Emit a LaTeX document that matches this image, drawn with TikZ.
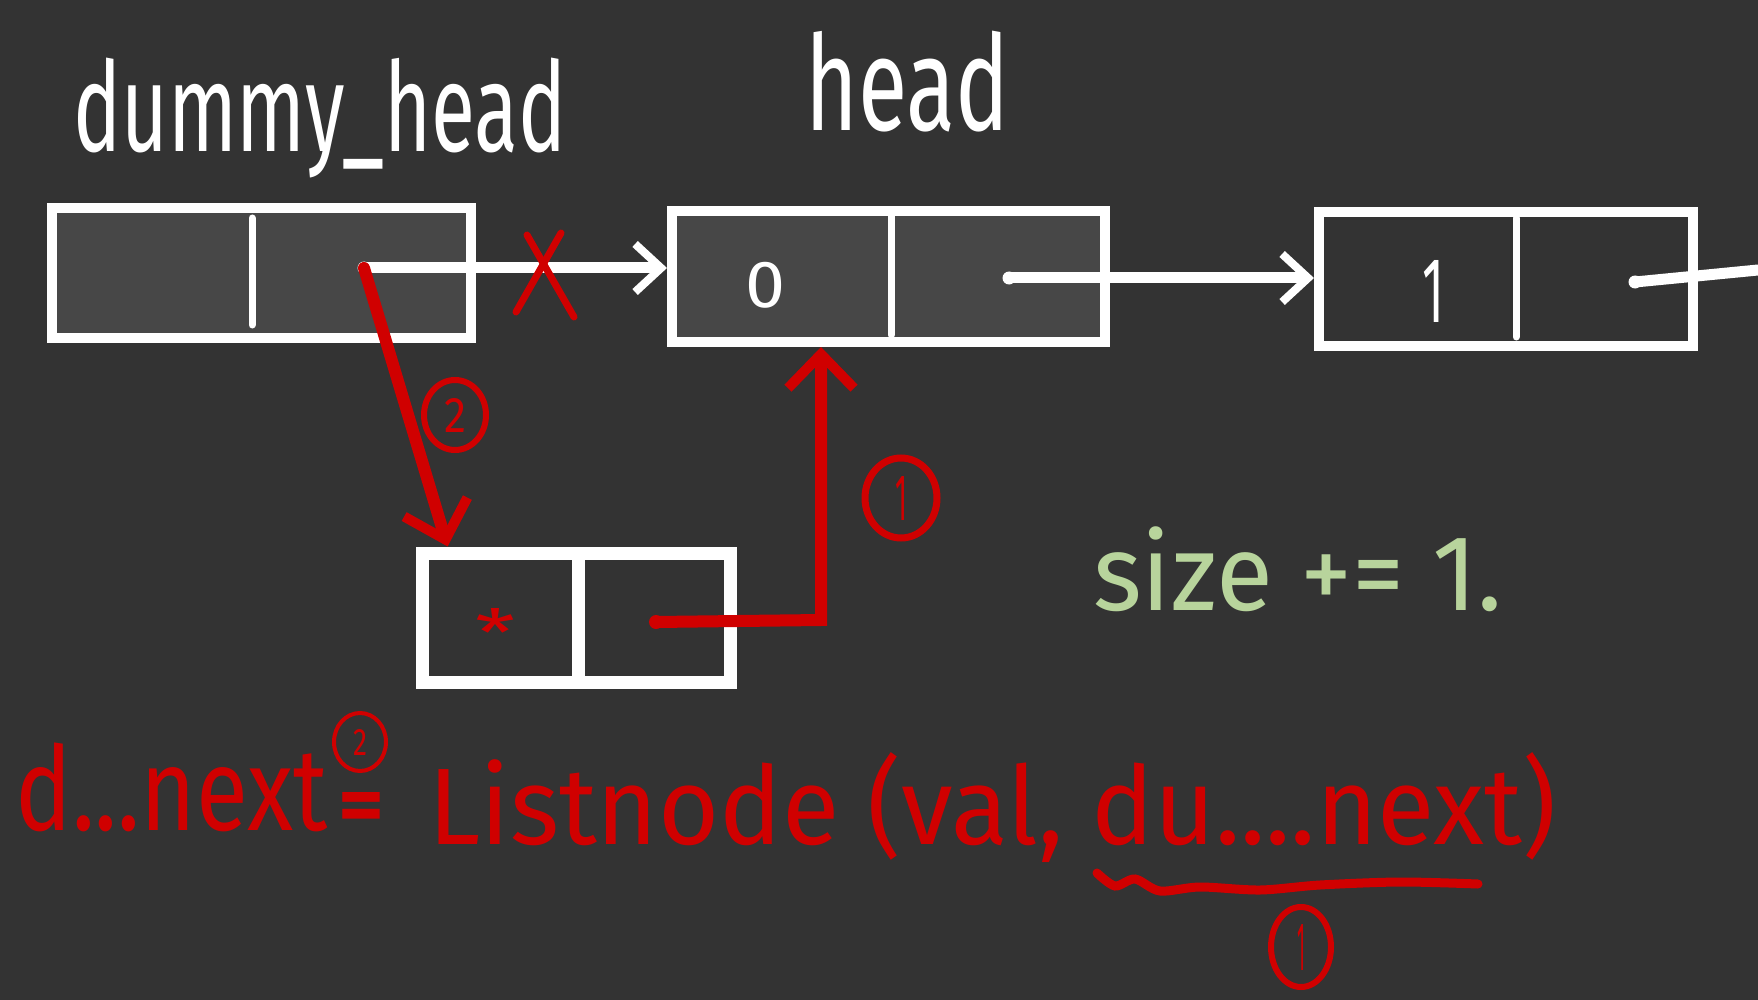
\documentclass[tikz,border=0pt]{standalone}
\usepackage{fontspec}
\newfontfamily\hand{Fira Sans}
\usetikzlibrary{arrows.meta,shapes.geometric,calc}
\definecolor{bg}{HTML}{333333}
\definecolor{boxfill}{HTML}{474747}
\definecolor{inkred}{HTML}{D00000}
\definecolor{inkgreen}{HTML}{B8D49C}
\begin{document}
\begin{tikzpicture}[x=1pt,y=-1pt,
  wbox/.style={draw=white,line width=10pt,inner sep=0pt,rectangle},
  divider/.style={draw=white,line width=7pt,line cap=round},
  warrow/.style={draw=white,line width=11pt,line cap=round,-{Straight Barb[length=26pt,width=48pt,line width=8pt]}},
  rarrow/.style={draw=inkred,line width=12pt,line cap=round,-{Straight Barb[length=34pt,width=66pt,line width=10pt]}},
  txt/.style={inner sep=0pt,anchor=north west},
  circ/.style={draw=inkred,ellipse,inner sep=0pt,text=inkred},
  dotw/.style={circle,fill=white,inner sep=0pt,minimum size=13pt}
]
\useasboundingbox (0,0) rectangle (1758,1000);
\fill[bg] (0,0) rectangle (1758,1000);

% labels
\node[txt,text=white] (lbldummy) at (73,58) {\resizebox*{493pt}{120pt}{\hand dummy\_head}};
\node[txt,text=white] (lblhead) at (805,31) {\resizebox*{204pt}{101pt}{\hand head}};

% list boxes
\node[wbox,fill=boxfill,minimum width=419pt,minimum height=130pt] (dummy) at (261.5,273) {};
\node[wbox,fill=boxfill,minimum width=433pt,minimum height=131pt] (head) at (888.5,276.5) {};
\node[wbox,fill=bg,minimum width=374pt,minimum height=134pt] (third) at (1506,279) {};
\node[wbox,fill=bg,line width=13pt,minimum width=308pt,minimum height=129pt] (newnode) at (576,617.5) {};

% dividers
\draw[divider] (252,218) -- (252,325);
\draw[divider] (891,215) -- (891,335);
\draw[divider] (1516,218) -- (1516,337);
\draw[divider,line width=13pt,line cap=butt] (578,553) -- (578,682);

% values
\node[txt,text=white] (val0) at (745,262) {\resizebox*{40pt}{46pt}{\hand 0}};
\node[txt,text=white] (val1) at (1422,260) {\resizebox*{22pt}{62pt}{\hand 1}};
\node[txt,text=inkred] (star) at (475,608) {\resizebox*{40pt}{48pt}{\hand *}};

% pointer dots
\node[dotw] (ddot) at (364,268) {};
\node[dotw] (hdot) at (1009,278) {};
\node[dotw] (tdot) at (1635,282) {};
\coordinate (offright) at (1758,270);

% white connectors
\draw[warrow] (ddot.center) -- (head.west |- ddot);
\draw[warrow] (hdot.center) -- (third.west |- hdot);
\draw[draw=white,line width=11pt,line cap=round] (tdot.center) -- (offright);

% red cross on old link
\coordinate (xmark) at (545,275);
\draw[inkred,line width=7pt,line cap=round] ($(xmark)+(-29,37)$) -- ($(xmark)+(16,-42)$);
\draw[inkred,line width=7pt,line cap=round] ($(xmark)+(-18,-40)$) -- ($(xmark)+(29,42)$);

% red step 2 arrow
\coordinate (ntop) at ($(newnode.north west)!0.1!(newnode.north east)$);
\draw[rarrow] (ddot.center) -- (ntop);
\node[circ,line width=6pt,minimum width=62pt,minimum height=70pt] (c2) at (455,415) {\resizebox*{22pt}{34pt}{\hand 2}};

% red step 1 arrow
\node[circle,fill=inkred,inner sep=0pt,minimum size=14pt] (sdot) at (656,622) {};
\coordinate (bend) at (821,620);
\draw[rarrow] (sdot.center) -- (bend) -- (bend |- head.south);
\node[circ,line width=7pt,minimum width=72pt,minimum height=80pt] (c1) at (901,498) {\resizebox*{12pt}{44pt}{\hand 1}};

% size += 1
\node[txt,text=inkgreen] (size) at (1093,527) {\resizebox*{409pt}{85pt}{\hand size += 1.}};

% formula
\node[txt,text=inkred] (flhs) at (15,743) {\resizebox*{312pt}{89pt}{\hand d...next}};
\node[txt,text=inkred] (feq) at (338,792) {\resizebox*{46pt}{40pt}{\hand\bfseries =}};
\node[txt,text=inkred] (frhs) at (428,752) {\resizebox*{1128pt}{110pt}{\hand Listnode (val, du....next)}};
\node[circ,line width=4pt,minimum width=52pt,minimum height=58pt] (c2s) at (360,742) {\resizebox*{14pt}{26pt}{\hand 2}};

% wavy underline and step 1 mark
\draw[inkred,line width=9pt,line cap=round] plot[smooth] coordinates {(1097,873) (1115,886) (1135,879) (1160,891) (1200,887) (1260,890) (1320,885) (1400,882) (1478,884)};
\node[circ,line width=6pt,minimum width=60pt,minimum height=80pt] (c1s) at (1301,947) {\resizebox*{8pt}{46pt}{\hand 1}};
\end{tikzpicture}
\end{document}
